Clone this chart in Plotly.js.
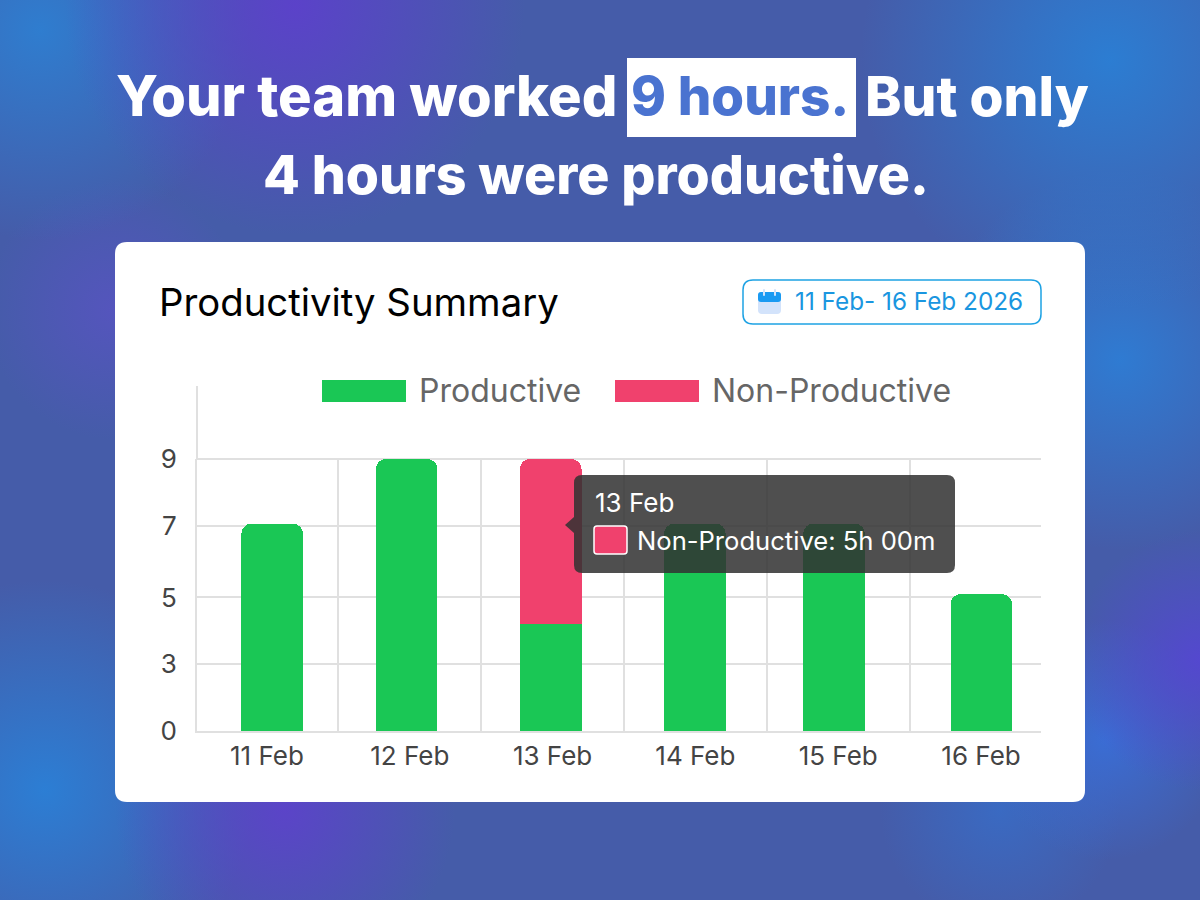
<!DOCTYPE html>
<html>
<head>
<meta charset="utf-8">
<title>Productivity Summary</title>
<script src="https://cdn.plot.ly/plotly-3.0.1.min.js"></script>
<style>
html, body { margin: 0; padding: 0; width: 1200px; height: 900px; overflow: hidden; }
body {
	background-color: #455ca9;
	background-image:
		radial-gradient(circle 230px at 295px 5px, #5b42c9 0%, rgba(91,66,201,0) 100%),
		radial-gradient(circle 250px at 1110px 60px, #2c7dd2 0%, rgba(44,125,210,0) 100%),
		radial-gradient(circle 210px at 40px 30px, #2f7dcf 0%, rgba(47,125,207,0) 100%),
		radial-gradient(circle 130px at 115px 310px, #5555bd 0%, rgba(85,85,189,0) 100%),
		radial-gradient(circle 170px at 285px 810px, #5b44c8 0%, rgba(91,68,200,0) 100%),
		radial-gradient(circle 210px at 45px 790px, #2c7ed4 0%, rgba(44,126,212,0) 100%),
		radial-gradient(circle 190px at 1120px 360px, #2f7bd2 0%, rgba(47,123,210,0) 100%),
		radial-gradient(circle 130px at 1200px 660px, #5448cf 0%, rgba(84,72,207,0) 100%),
		radial-gradient(circle 120px at 1105px 740px, #3a6dd4 0%, rgba(58,109,212,0) 100%),
		radial-gradient(circle 120px at 1000px 810px, #3a6ac2 0%, rgba(58,106,194,0) 100%);
}
#chart { width: 1200px; height: 900px; }
</style>
</head>
<body>
<div id="chart"></div>
<script>
var days = ['11 Feb', '12 Feb', '13 Feb', '14 Feb', '15 Feb', '16 Feb'];
// heights, the axis labels are not evenly spaced in it
var productive = [6.86, 9, 3.55, 6.86, 6.86, 4.53];
var nonProductive = [null, null, 5.45, null, null, null];
var yTickVals = [0, 2.23, 4.42, 6.78, 9];
var yTickText = ['0', '3', '5', '7', '9'];
// bars do not sit quite centred on their labels
var barNudge = [0.037, -0.022, -0.013, -0.004, -0.029, 0.002];

var GREEN = '#1ac755';
var RED = '#f0416d';
var GRID = '#e0e0e0';
var TIP = 'rgba(50,50,50,0.86)';
var FONT = 'Inter, sans-serif';
var BAR_WIDTH = 0.431;

function px(x) { return x / 1200; }
function py(y) { return 1 - y / 900; }

function roundRect(x0, y0, x1, y1, r) {
	return 'M' + px(x0 + r) + ',' + py(y0) +
		'L' + px(x1 - r) + ',' + py(y0) + 'Q' + px(x1) + ',' + py(y0) + ' ' + px(x1) + ',' + py(y0 + r) +
		'L' + px(x1) + ',' + py(y1 - r) + 'Q' + px(x1) + ',' + py(y1) + ' ' + px(x1 - r) + ',' + py(y1) +
		'L' + px(x0 + r) + ',' + py(y1) + 'Q' + px(x0) + ',' + py(y1) + ' ' + px(x0) + ',' + py(y1 - r) +
		'L' + px(x0) + ',' + py(y0 + r) + 'Q' + px(x0) + ',' + py(y0) + ' ' + px(x0 + r) + ',' + py(y0) + 'Z';
}

function box(x0, y0, x1, y1, r, fill, stroke, strokeWidth, layer) {
	return {
		type: 'path', xref: 'paper', yref: 'paper', layer: layer,
		path: roundRect(x0, y0, x1, y1, r),
		fillcolor: fill,
		line: { color: stroke || 'rgba(0,0,0,0)', width: strokeWidth || 0 }
	};
}

function label(text, x, y, anchor, size, color, weight) {
	return {
		text: text, xref: 'paper', yref: 'paper', x: px(x), y: py(y),
		xanchor: anchor, yanchor: 'middle', showarrow: false, borderpad: 0,
		font: { family: FONT, size: size, color: color, weight: weight || 400 }
	};
}

var barOffsets = barNudge.map(function (n) { return n - BAR_WIDTH / 2; });

var traces = [
	{
		type: 'bar', name: 'Productive', x: days, y: productive,
		width: BAR_WIDTH, offset: barOffsets,
		marker: { color: GREEN, line: { width: 0 } }, hoverinfo: 'skip'
	},
	{
		type: 'bar', name: 'Non-Productive', x: days, y: nonProductive,
		width: BAR_WIDTH, offset: barOffsets,
		marker: { color: RED, line: { width: 0 } }, hoverinfo: 'skip'
	}
];

var shapes = [
	// card and date badge
	box(115, 242, 1085, 802, 12, '#ffffff', null, 0, 'below'),
	box(743, 280, 1041, 324, 10, '#ffffff', '#1ea2e4', 1.5, 'below'),
	// calendar icon
	box(758, 292, 781, 314, 4, '#d3e3fb', null, 0, 'below'),
	box(758, 292, 781, 302, 3, '#1a9af2', null, 0, 'below'),
	box(763, 289, 765, 296, 1, '#d3e3fb', null, 0, 'below'),
	box(774, 289, 776, 296, 1, '#d3e3fb', null, 0, 'below'),
	// headline highlight
	box(627, 58, 856, 137, 0, '#ffffff', null, 0, 'below'),
	// legend swatches
	box(322, 380, 406, 402, 0, GREEN, null, 0, 'below'),
	box(615, 380, 699, 402, 0, RED, null, 0, 'below'),
	// y axis runs on above the top gridline, and the top gridline sits on the plot edge
	{ type: 'line', xref: 'paper', yref: 'paper', layer: 'below', x0: px(197), x1: px(197), y0: py(386), y1: py(459), line: { color: GRID, width: 2 } },
	{ type: 'line', xref: 'paper', yref: 'paper', layer: 'below', x0: px(197), x1: px(1041), y0: py(459), y1: py(459), line: { color: GRID, width: 2 } },
	// tooltip
	box(574, 475, 955, 573, 8, TIP, null, 0, 'above'),
	{
		type: 'path', xref: 'paper', yref: 'paper', layer: 'above',
		path: 'M' + px(565) + ',' + py(525) + 'L' + px(574) + ',' + py(517) + 'L' + px(574) + ',' + py(533) + 'Z',
		fillcolor: TIP, line: { width: 0 }
	},
	box(594, 526, 627, 554, 3, RED, '#ffffff', 1.5, 'above')
];

var annotations = [
	label('Your team worked', 618, 96, 'right', 56, '#ffffff', 800),
	label('9 hours.', 740, 96, 'center', 53, '#4a73d0', 800),
	label('But only', 864, 96, 'left', 55, '#ffffff', 800),
	label('4 hours were productive.', 596, 175, 'center', 53.7, '#ffffff', 800),
	label('Productivity Summary', 158, 302, 'left', 38.3, '#000000', 400),
	label('11 Feb- 16 Feb 2026', 794, 301, 'left', 24.3, '#1a96e0', 400),
	label('Productive', 418, 391, 'left', 32, '#666666', 400),
	label('Non-Productive', 711, 391, 'left', 32, '#666666', 400),
	label('13 Feb', 594, 502, 'left', 26, '#ffffff', 400),
	label('Non-Productive: 5h 00m', 636, 540, 'left', 25.6, '#ffffff', 400)
];

var layout = {
	width: 1200,
	height: 900,
	margin: { l: 0, r: 0, t: 0, b: 0, pad: 0 },
	paper_bgcolor: 'rgba(0,0,0,0)',
	plot_bgcolor: 'rgba(0,0,0,0)',
	barmode: 'stack',
	barcornerradius: 10,
	showlegend: false,
	xaxis: {
		domain: [px(197), px(1041)],
		type: 'category',
		range: [-0.49, 5.42],
		tickson: 'boundaries',
		ticks: '',
		showgrid: true,
		gridcolor: GRID,
		gridwidth: 2,
		showline: true,
		linecolor: GRID,
		linewidth: 2,
		ticklabelstandoff: 1,
		tickfont: { family: FONT, size: 26, color: '#444444' }
	},
	yaxis: {
		domain: [py(731), py(459)],
		range: [0, 9],
		tickmode: 'array',
		tickvals: yTickVals,
		ticktext: yTickText,
		ticks: '',
		showgrid: true,
		gridcolor: GRID,
		gridwidth: 2,
		zeroline: false,
		showline: true,
		linecolor: GRID,
		linewidth: 2,
		ticklabelstandoff: 13,
		tickfont: { family: FONT, size: 26, color: '#444444' }
	},
	shapes: shapes,
	annotations: annotations
};

Plotly.newPlot('chart', traces, layout, { displayModeBar: false, staticPlot: true });
</script>
</body>
</html>
